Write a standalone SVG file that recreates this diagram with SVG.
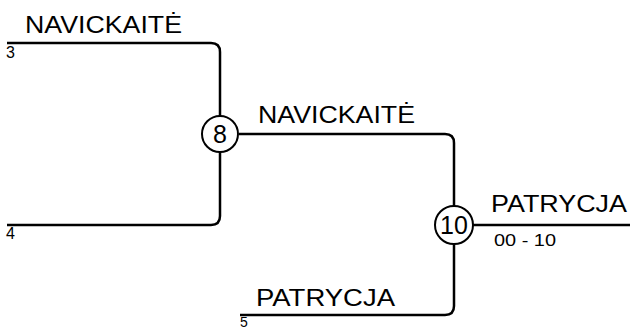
<svg xmlns="http://www.w3.org/2000/svg" width="630" height="329" viewBox="0 0 630 329">
<style>
.ln{fill:none;stroke:#000;stroke-width:2.5}
.nd{fill:#fff;stroke:#000;stroke-width:2}
.big{font-family:"Liberation Sans",Arial,sans-serif;font-size:24px;fill:#000}
.sm{font-family:"Liberation Sans",Arial,sans-serif;font-size:16px;fill:#000}
.num{font-family:"Liberation Sans",Arial,sans-serif;font-size:25px;fill:#000;text-anchor:middle}
</style>
<rect width="630" height="329" fill="#fff"/>
<g id="connectors">
<path class="ln" d="M7,43 H211 Q220,43 220,52 V116"/>
<path class="ln" d="M7,225 H211 Q220,225 220,216 V152"/>
<path class="ln" d="M239,134 H445 Q454,134 454,143 V206"/>
<path class="ln" d="M240,315 H445 Q454,315 454,306 V244"/>
<path class="ln" d="M473,225 H630"/>
</g>
<g id="p3">
<text class="big" x="25" y="33" textLength="157" lengthAdjust="spacingAndGlyphs">NAVICKAITĖ</text>
<text class="sm" x="6" y="58">3</text>
</g>
<g id="p4">
<text class="sm" x="6" y="239">4</text>
</g>
<g id="m8">
<circle class="nd" cx="220" cy="134" r="18"/>
<text class="num" x="220" y="143">8</text>
<text class="big" x="258" y="123" textLength="157" lengthAdjust="spacingAndGlyphs">NAVICKAITĖ</text>
</g>
<g id="p5">
<text class="big" x="256" y="306" textLength="139" lengthAdjust="spacingAndGlyphs">PATRYCJA</text>
<text class="sm" x="240" y="327" style="font-size:14px">5</text>
</g>
<g id="m10">
<circle class="nd" cx="454" cy="225" r="19"/>
<text class="num" x="454" y="234">10</text>
<text class="big" x="491" y="212" textLength="136" lengthAdjust="spacingAndGlyphs">PATRYCJA</text>
<text class="sm" x="494" y="246" textLength="62" lengthAdjust="spacingAndGlyphs">00 - 10</text>
</g>
</svg>
